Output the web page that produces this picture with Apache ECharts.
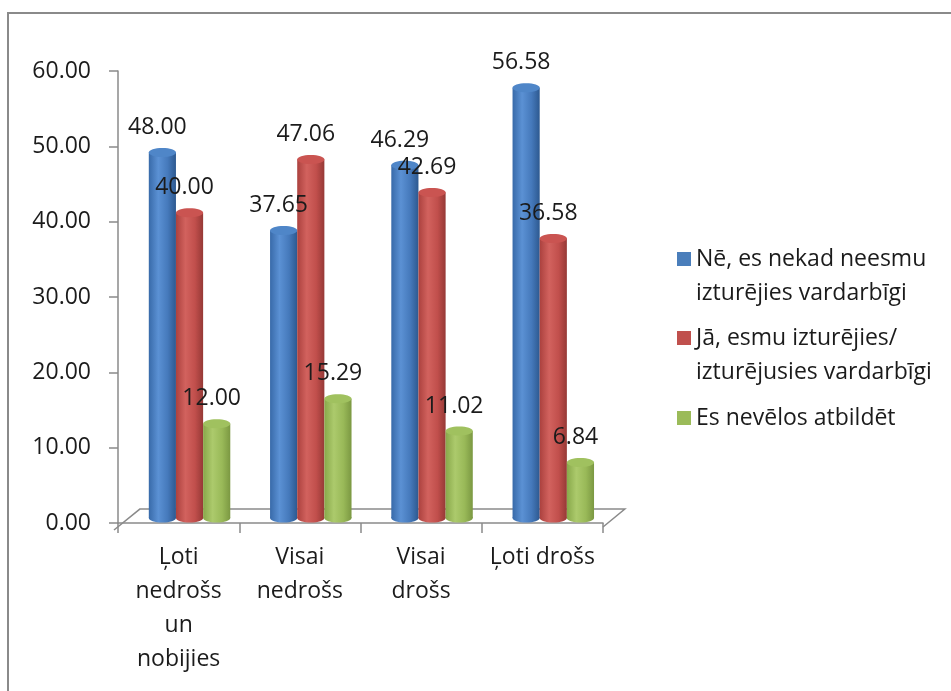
<!DOCTYPE html>
<html>
<head>
<meta charset="utf-8">
<script src="https://cdn.jsdelivr.net/npm/echarts@6/dist/echarts.min.js"></script>
<style>
  html, body { margin: 0; padding: 0; background: #ffffff; }
  #chart { width: 951px; height: 691px; }
</style>
</head>
<body>
<div id="chart"></div>
<script>
// Response groups (x axis)
const categories = ['Ļoti\nnedrošs\nun\nnobijies', 'Visai\nnedrošs', 'Visai\ndrošs', 'Ļoti drošs'];

// Answer series names (legend)
const seriesNames = [
  'Nē, es nekad neesmu\nizturējies vardarbīgi',
  'Jā, esmu izturējies/\nizturējusies vardarbīgi',
  'Es nevēlos atbildēt'
];

// Percentages per group
const neverValues = [48.00, 37.65, 46.29, 56.58];
const yesValues = [40.00, 47.06, 42.69, 36.58];
const noAnswerValues = [12.00, 15.29, 11.02, 6.84];

// Value axis range
const yMin = 0;
const yMax = 60;
const yStep = 10;

const FONT = '"Open Sans", Lato, sans-serif';
const FONT_SIZE = 23;
const LINE_H = 34;
const TEXT_COLOR = '#1b1b1b';
const LINE_COLOR = '#8a8a8a';

// Oblique depth of the floor, relative to one category band
const DEPTH_RATIO = 0.18;
const DEPTH_SLOPE = 0.82;
const AXIS_OFFSET = 4;
const BAR_RATIO = 0.224;

const palettes = [
  { stops: ['#386aa9', '#5b91d4', '#4579bb', '#2d5990'], top: '#4f86c8', legend: '#4a7ebb' },
  { stops: ['#ab413e', '#d2625e', '#c14f4c', '#963936'], top: '#ca5451', legend: '#c0504d' },
  { stops: ['#88a84a', '#acca6c', '#99b958', '#7b9842'], top: '#a0c15f', legend: '#9bbb59' }
];

function bodyFill(p) {
  return {
    type: 'linear', x: 0, y: 0, x2: 1, y2: 0,
    colorStops: [
      { offset: 0, color: p.stops[0] },
      { offset: 0.35, color: p.stops[1] },
      { offset: 0.7, color: p.stops[2] },
      { offset: 1, color: p.stops[3] }
    ]
  };
}

function cylinderRenderer(slot) {
  const pal = palettes[slot];
  return function (params, api) {
    const cat = api.value(0);
    const v = api.value(1);
    const base = api.coord([cat, 0]);
    const top = api.coord([cat, v]);
    const band = api.size([1, 0])[0];
    const depth = band * DEPTH_RATIO;
    const lift = depth * DEPTH_SLOPE;
    const bw = band * BAR_RATIO;
    const rx = bw / 2;
    const ry = 4.5;
    const cx = base[0] + depth / 2 + (slot - 1) * bw;
    const yBase = base[1] + AXIS_OFFSET - lift / 2;
    const yTop = top[1] - lift / 2;
    const fill = bodyFill(pal);
    return {
      type: 'group',
      children: [
        { type: 'ellipse', shape: { cx: cx, cy: yBase, rx: rx, ry: ry }, style: { fill: fill } },
        { type: 'rect', shape: { x: cx - rx, y: yTop, width: bw, height: Math.max(0, yBase - yTop) }, style: { fill: fill } },
        { type: 'ellipse', shape: { cx: cx, cy: yTop, rx: rx, ry: ry }, style: { fill: pal.top } },
        {
          type: 'text', z2: 100,
          style: {
            text: v.toFixed(2), x: cx - 5, y: yTop - 25,
            align: 'center', verticalAlign: 'middle',
            fontSize: FONT_SIZE, fontFamily: FONT, fill: TEXT_COLOR
          }
        }
      ]
    };
  };
}

function floorRenderer(params, api) {
  const cs = params.coordSys;
  const band = api.size([1, 0])[0];
  const depth = band * DEPTH_RATIO;
  const lift = depth * DEPTH_SLOPE;
  const y0 = cs.y + cs.height + AXIS_OFFSET;
  const x0 = cs.x;
  const x1 = cs.x + cs.width;
  return {
    type: 'polyline',
    shape: { points: [[x0 - 4, y0 + 3], [x0 + depth, y0 - lift], [x1 + depth, y0 - lift], [x1, y0]] },
    style: { stroke: LINE_COLOR, lineWidth: 1.5, fill: null }
  };
}

const valueSets = [neverValues, yesValues, noAnswerValues];

const legendText = {
  fontSize: FONT_SIZE, fontFamily: FONT, color: TEXT_COLOR, lineHeight: LINE_H
};

// Two-line entries: square sits at the top of a taller icon box so it
// lines up with the first text line.
const topSquareIcon = 'path://M0,0h14v14h-14z M0,47.99h0.01v0.01h-0.01z';

const chart = echarts.init(document.getElementById('chart'), null, { renderer: 'canvas' });

chart.setOption({
  animation: false,
  backgroundColor: '#ffffff',
  graphic: [{
    type: 'rect',
    shape: { x: 8, y: 13, width: 1000, height: 760 },
    style: { fill: null, stroke: LINE_COLOR, lineWidth: 2 },
    silent: true
  }],
  grid: { left: 118, right: 348, top: 71, bottom: 168 },
  legend: [
    {
      data: seriesNames.slice(0, 2),
      orient: 'vertical',
      left: 677,
      top: 242,
      padding: 0,
      icon: topSquareIcon,
      itemWidth: 14,
      itemHeight: 48,
      itemGap: 11,
      selectedMode: false,
      textStyle: legendText
    },
    {
      data: seriesNames.slice(2),
      orient: 'vertical',
      left: 677,
      top: 401,
      padding: 0,
      icon: 'rect',
      itemWidth: 14,
      itemHeight: 14,
      selectedMode: false,
      textStyle: legendText
    }
  ],
  xAxis: {
    type: 'category',
    data: categories,
    offset: AXIS_OFFSET,
    axisLine: { lineStyle: { color: LINE_COLOR, width: 1.5 } },
    axisTick: { show: true, length: 10, alignWithLabel: false, lineStyle: { color: LINE_COLOR, width: 1.5 } },
    axisLabel: { interval: 0, margin: 13, fontSize: FONT_SIZE, lineHeight: LINE_H, fontFamily: FONT, color: TEXT_COLOR }
  },
  yAxis: {
    type: 'value',
    min: yMin,
    max: yMax,
    interval: yStep,
    axisLine: { show: true, lineStyle: { color: LINE_COLOR, width: 1.5 } },
    axisTick: { show: true, length: 9, lineStyle: { color: LINE_COLOR, width: 1.5 } },
    splitLine: { show: false },
    axisLabel: {
      margin: 27, fontSize: FONT_SIZE, fontFamily: FONT, color: TEXT_COLOR,
      formatter: function (v) { return v.toFixed(2); }
    }
  },
  series: [
    {
      type: 'custom',
      name: 'floor',
      silent: true,
      renderItem: floorRenderer,
      data: [[0, 0]],
      z: 1
    }
  ].concat(seriesNames.map(function (name, i) {
    return {
      type: 'custom',
      name: name,
      itemStyle: { color: palettes[i].legend },
      renderItem: cylinderRenderer(i),
      encode: { x: 0, y: 1 },
      data: valueSets[i].map(function (v, k) { return [k, v]; }),
      z: 2
    };
  }))
});
</script>
</body>
</html>
